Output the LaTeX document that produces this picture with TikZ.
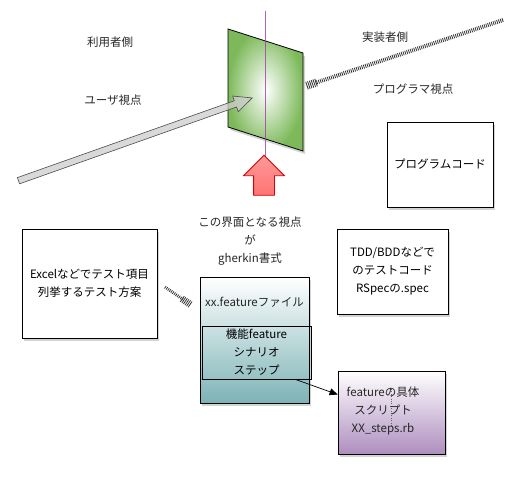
\documentclass[tikz,border=0pt]{standalone}
\usepackage{fontspec}
\setmainfont{Noto Sans CJK JP}
\usetikzlibrary{arrows.meta, calc, shadows, shapes.arrows}
\definecolor{planegreen}{HTML}{7DB95A}
\definecolor{featureteal}{HTML}{7DB3B6}
\definecolor{stepspurple}{HTML}{AE8EBF}
\definecolor{hatchgray}{HTML}{333333}
\definecolor{axispurple}{HTML}{A03CA8}
\newcommand*{\jtext}{\fontsize{11.5}{18}\selectfont}
\tikzstyle{shadowed} = [drop shadow={shadow xshift=2pt, shadow yshift=-3pt, opacity=0.35}]
\tikzstyle{frame} = [draw, line width=0.8pt, rectangle, align=center, inner sep=0pt, font=\jtext]
\tikzstyle{block} = [frame, shadowed]
\tikzstyle{caption} = [align=center, inner sep=0pt, font=\jtext, text=black!85]
\tikzstyle{hatch} = [line width=4pt, hatchgray, dash pattern=on 0.8pt off 1.1pt]
\tikzstyle{path} = [-{Triangle[length=8pt, width=7pt]}, line width=0.7pt]

\begin{document}
\begin{tikzpicture}[x=1pt, y=-1pt]
    \useasboundingbox (0,0) rectangle (514,479);

    % Plane.
    \shade [draw=black, line width=0.8pt, inner color=white, outer color=planegreen, shadowed]
        (228,29) -- (303,53) -- (303,151) -- (228,127) -- cycle;

    % Axis through the plane.
    \coordinate (axis top) at (265,11);
    \coordinate (axis bottom) at (265,161);
    \draw [axispurple, line width=0.8pt, draw opacity=0.8] (axis top) -- (axis bottom);

    % User arrow.
    \node (node user) [single arrow, draw=black!70, fill=gray!40, fill opacity=0.75, line width=0.6pt,
        minimum height=248pt, inner xsep=0pt, inner ysep=3pt,
        single arrow head extend=5pt, single arrow tip angle=50,
        rotate=19.5] at (132,140.5) {};

    % Red arrow.
    \node (node view) [single arrow, draw=red!85!black, top color=red!40, bottom color=red!55,
        line width=0.8pt, minimum height=40pt, inner xsep=0pt, inner ysep=10pt,
        single arrow head extend=10pt, rotate=90] at (264,180.5) {};

    % Programmer arrow.
    \coordinate (coder tail) at (503,20);
    \coordinate (coder tip) at (306,86);
    \draw [hatch] (coder tail) -- ($(coder tip)!10pt!(coder tail)$);
    \draw [hatch, line width=8pt] ($(coder tip)!11pt!(coder tail)$) -- (coder tip);

    % Captions.
    \node (node 01) [caption] at (110,42) {利用者側};
    \node (node 02) [caption] at (113,100) {ユーザ視点};
    \node (node 03) [caption] at (385,37) {実装者側};
    \node (node 04) [caption] at (413,89) {プログラマ視点};
    \node (node 05) [caption] at (250,241.5) {この界面となる視点\\が\\gherkin書式};

    % Boxes.
    \node (node code) [block, fill=white, minimum width=106pt, minimum height=85pt] at (440,164.5) {プログラムコード};
    \node (node excel) [block, fill=white, minimum width=135pt, minimum height=109pt] at (89.5,283.5) {Excelなどでテスト項目\\列挙するテスト方案};
    \node (node tdd) [block, fill=white, minimum width=111pt, minimum height=85pt] at (392.5,271.5) {TDD/BDDなどで\\のテストコード\\RSpecの.spec};
    \node (node feature) [block, top color=white, bottom color=featureteal, minimum width=109pt, minimum height=126pt] at (254.5,340) {};
    \node (node 11) [caption] at (254.5,302) {xx.featureファイル};
    \node (node scenario) [frame, minimum width=109pt, minimum height=53pt] at (256.5,352.5) {機能feature\\シナリオ\\ステップ};
    \node (node steps) [block, top color=white, bottom color=stepspurple, minimum width=107pt, minimum height=83pt] at (391.5,412.5) {};
    \draw [dotted, black!60] (391,389) -- (391,426);
    \node (node 12) [caption] at (383,411) {featureの具体\\スクリプト\\XX\_steps.rb};

    % Excel hatch.
    \coordinate (excel tail) at (165,287);
    \coordinate (excel tip) at (191,305);
    \draw [hatch, line width=3pt] (excel tail) -- ($(excel tip)!10pt!(excel tail)$);
    \draw [hatch, line width=7pt] ($(excel tip)!11pt!(excel tail)$) -- (excel tip);

    % Arrow to steps.
    \draw [path] ([xshift=-16pt]node scenario.south east) -- ([yshift=18pt]node steps.west);
\end{tikzpicture}
\end{document}
